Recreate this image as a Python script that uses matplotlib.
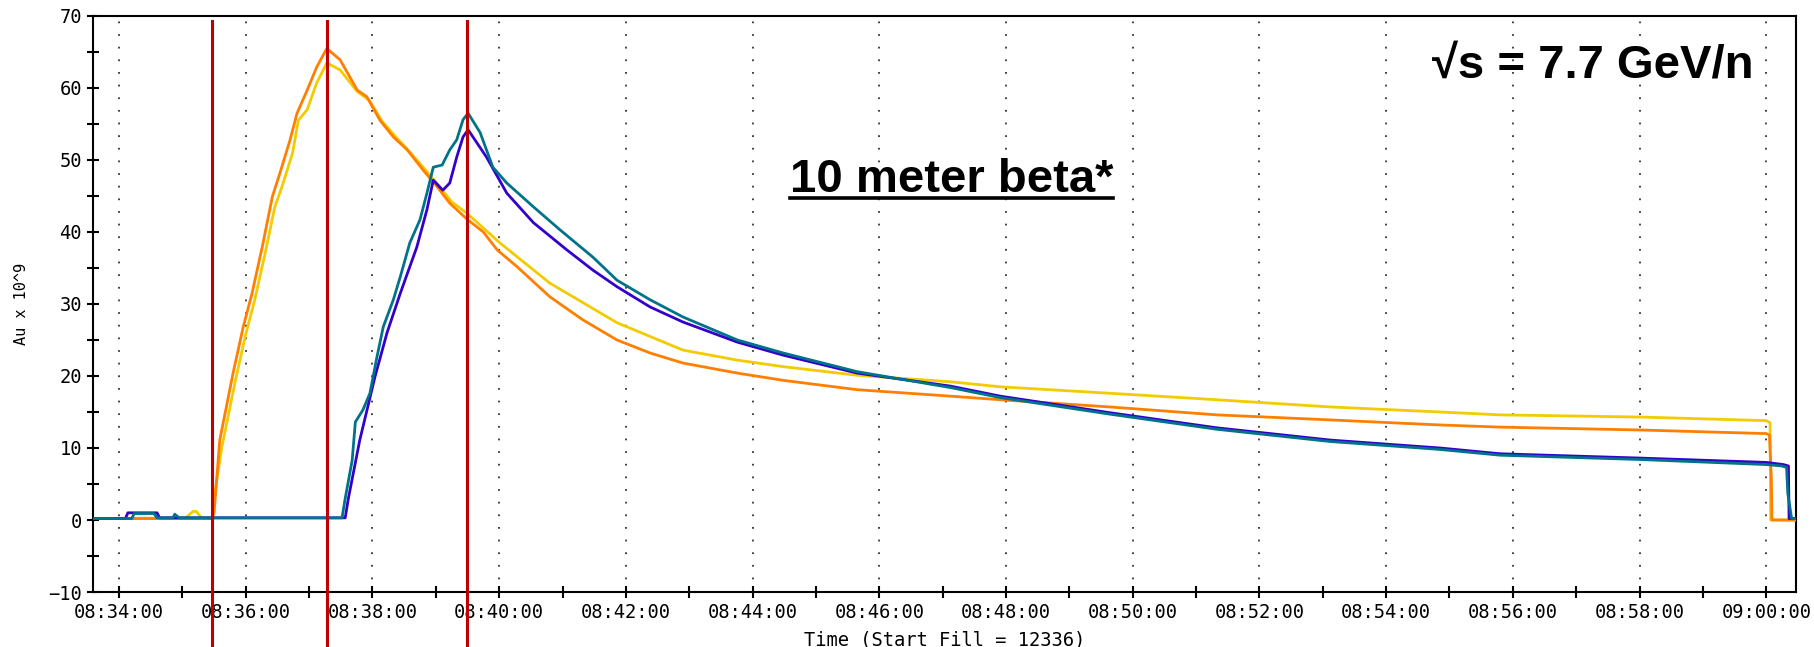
import matplotlib
matplotlib.use('Agg')
import matplotlib.pyplot as plt
from matplotlib.ticker import MultipleLocator, FuncFormatter
from matplotlib.lines import Line2D

# time axis: minutes after 08:34:00
T0_HOUR, T0_MIN = 8, 34

# yellow ring
yellow_t = [-0.41, 1.05, 1.17, 1.22, 1.30, 1.47, 1.50, 1.62, 1.84, 2.00, 2.14, 2.30, 2.46, 2.58,
            2.74, 2.83, 2.97, 3.12, 3.28, 3.49, 3.76, 3.95, 4.15, 4.39, 4.60, 4.85, 5.05, 5.25,
            5.49, 6.01, 6.80, 7.86, 8.90, 9.76, 10.48, 11.65, 13.12, 13.91, 15.64, 17.33, 19.12,
            20.85, 21.80, 24.01, 26.00, 26.06, 26.07, 26.47]
yellow_v = [0.2, 0.3, 1.2, 1.2, 0.3, 0.3, 3.0, 10.0, 19.5, 25.8, 30.5, 36.8, 43.5, 46.5,
            51.0, 55.5, 57.0, 60.7, 63.5, 62.5, 59.5, 58.3, 55.4, 53.0, 51.0, 48.5, 46.4, 44.2,
            42.6, 38.5, 32.9, 27.4, 23.6, 22.2, 21.3, 20.1, 19.2, 18.5, 17.6, 16.7, 15.7,
            15.0, 14.6, 14.3, 13.8, 13.5, 0.0, 0.0]

# orange ring
orange_t = [-0.41, 1.47, 1.50, 1.59, 1.80, 1.96, 2.10, 2.26, 2.42, 2.54, 2.70, 2.81, 2.97, 3.12,
            3.28, 3.49, 3.76, 3.91, 4.12, 4.33, 4.55, 4.80, 5.02, 5.22, 5.49, 5.75, 5.97, 6.28,
            6.80, 7.32, 7.86, 8.38, 8.90, 9.76, 10.48, 11.65, 13.12, 13.91, 15.64, 17.33,
            19.12, 20.85, 21.80, 24.01, 26.00, 26.05, 26.08, 26.09, 26.47]
orange_v = [0.2, 0.2, 1.0, 11.1, 20.4, 26.8, 31.5, 37.9, 44.9, 48.2, 52.8, 56.5, 59.7, 62.9,
            65.5, 63.9, 59.7, 58.8, 55.5, 53.2, 51.4, 48.6, 46.3, 44.0, 41.8, 40.0, 37.5, 35.2,
            31.0, 27.8, 25.0, 23.2, 21.8, 20.4, 19.4, 18.1, 17.2, 16.7, 15.7, 14.6,
            13.9, 13.2, 12.9, 12.5, 12.0, 11.8, 6.0, 0.0, 0.0]

# blue ring
blue_t = [-0.41, 0.10, 0.14, 0.60, 0.64, 3.57, 3.62, 3.80, 4.04, 4.23, 4.44, 4.70, 4.86, 4.96,
          5.11, 5.22, 5.33, 5.43, 5.51, 5.80, 6.12, 6.54, 7.07, 7.48, 7.86, 8.38, 8.90, 9.76,
          10.48, 11.65, 13.12, 13.91, 15.64, 17.33, 19.12, 20.85, 21.80, 24.01, 26.00, 26.27,
          26.35, 26.36, 26.47]
blue_v = [0.2, 0.2, 1.0, 1.0, 0.3, 0.3, 3.0, 11.1, 19.9, 26.0, 31.5, 37.9, 43.1, 47.2,
          45.8, 46.8, 50.4, 53.2, 54.2, 50.4, 45.4, 41.3, 37.5, 34.7, 32.4, 29.6, 27.5, 24.7,
          22.9, 20.4, 18.6, 17.2, 14.9, 12.8, 11.1, 10.0, 9.2, 8.6, 8.0, 7.7,
          7.5, 0.2, 0.2]

# teal ring
teal_t = [-0.41, 0.20, 0.24, 0.55, 0.60, 0.85, 0.88, 0.95, 3.52, 3.57, 3.68, 3.73, 3.85, 3.96,
          4.07, 4.17, 4.33, 4.44, 4.59, 4.75, 4.86, 4.96, 5.10, 5.22, 5.33, 5.43, 5.51, 5.70,
          5.90, 6.12, 6.54, 6.96, 7.48, 7.86, 8.38, 8.90, 9.76, 10.48, 11.65, 13.12, 13.91,
          15.64, 17.33, 19.12, 20.85, 21.80, 24.01, 26.00, 26.25, 26.32, 26.34, 26.40, 26.47]
teal_v = [0.2, 0.2, 0.9, 0.9, 0.3, 0.3, 0.8, 0.3, 0.3, 3.0, 8.3, 13.6, 15.3, 17.6,
          22.6, 26.8, 30.6, 33.8, 38.5, 41.7, 45.4, 49.0, 49.3, 51.4, 52.8, 55.6, 56.5, 53.8,
          49.0, 46.8, 43.5, 40.3, 36.5, 33.3, 30.6, 28.2, 25.0, 23.2, 20.6, 18.4, 17.0,
          14.7, 12.6, 10.9, 9.8, 9.0, 8.4, 7.7, 7.5, 7.3, 3.7, 0.2, 0.2]

# red markers (minutes after 08:34:00)
marker_t = [1.47, 3.28, 5.49]

x_min, x_max = -0.41, 26.47
y_min, y_max = -10, 70


def fmt_time(m, pos=None):
    total = int(round((T0_HOUR * 60 + T0_MIN + m) * 60))
    h, rem = divmod(total, 3600)
    mm, ss = divmod(rem, 60)
    return '%02d:%02d:%02d' % (h, mm, ss)


mono = 'DejaVu Sans Mono'

fig = plt.figure(figsize=(18.14, 6.47), dpi=100)
ax = fig.add_axes([0.0513, 0.085, 0.9388, 0.8903])

ax.plot(yellow_t, yellow_v, color='#F2CC00', lw=2.0, zorder=3)
ax.plot(orange_t, orange_v, color='#FF7F00', lw=2.0, zorder=4)
ax.plot(blue_t, blue_v, color='#3300CC', lw=2.0, zorder=5)
ax.plot(teal_t, teal_v, color='#00738A', lw=2.0, zorder=6)

for t in marker_t:
    ax.axvline(t, ymin=-0.095, ymax=0.991, color='#C00000', lw=2.2, clip_on=False, zorder=7)

ax.set_xlim(x_min, x_max)
ax.set_ylim(y_min, y_max)
ax.xaxis.set_major_locator(MultipleLocator(2))
ax.xaxis.set_minor_locator(MultipleLocator(1))
ax.xaxis.set_major_formatter(FuncFormatter(fmt_time))
ax.yaxis.set_major_locator(MultipleLocator(10))
ax.yaxis.set_minor_locator(MultipleLocator(5))

ax.tick_params(which='both', direction='inout', width=1.5, color='black')
ax.tick_params(which='major', length=8, labelsize=13.5, pad=4)
ax.tick_params(which='minor', length=8)
for lab in ax.get_xticklabels() + ax.get_yticklabels():
    lab.set_family(mono)

ax.grid(axis='x', which='major', color='#333333', linestyle=(0, (1, 6)), lw=1.3)
for s in ax.spines.values():
    s.set_linewidth(1.5)

ax.set_xlabel('Time (Start Fill = 12336)', family=mono, fontsize=13.5, labelpad=6)
ax.set_ylabel('Au x 10^9', family=mono, fontsize=11, labelpad=14)

ax.text(0.786, 0.894, '\u221as = 7.7 GeV/n', transform=ax.transAxes, fontsize=34,
        fontweight='bold', family=['Liberation Sans', 'DejaVu Sans'], va='baseline', zorder=8)
t2 = ax.text(0.409, 0.694, '10 meter beta*', transform=ax.transAxes, fontsize=34,
             fontweight='bold', family=['Liberation Sans', 'DejaVu Sans'], va='baseline', zorder=8)

# underline
fig.canvas.draw()
bb = t2.get_window_extent()
base_y = ax.transAxes.transform((0.409, 0.694))[1]
uy = base_y - 6
fig.lines.append(Line2D([bb.x0, bb.x1], [uy, uy], transform=None, color='black', lw=2.6))

fig.savefig('out.png', dpi=100)
